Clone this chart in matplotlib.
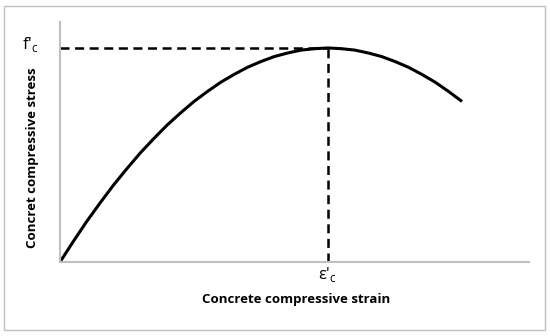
import matplotlib.pyplot as plt
from matplotlib.patches import Rectangle

plt.rcParams['lines.scale_dashes'] = False

# stress-strain curve (strain, stress in MPa)
strain = [0.0, 0.0001, 0.0002, 0.0003, 0.0004, 0.0005, 0.0006, 0.0007, 0.0008,
          0.0009, 0.0010, 0.0011, 0.0012, 0.0013, 0.0014, 0.0015, 0.0016,
          0.0017, 0.0018, 0.0019, 0.0020, 0.0021, 0.0022, 0.0023, 0.0024,
          0.0025, 0.0026, 0.0027, 0.0028, 0.0029, 0.0030]
stress = [0.0, 2.9, 5.7, 8.3, 10.8, 13.1, 15.3, 17.3, 19.2, 20.9, 22.5, 23.9,
          25.2, 26.3, 27.3, 28.1, 28.8, 29.3, 29.7, 29.9, 30.0, 29.9, 29.7,
          29.3, 28.8, 28.1, 27.3, 26.3, 25.2, 23.9, 22.5]
peak_strain = 0.002
peak_stress = 30.0

fig = plt.figure(figsize=(5.5, 3.36), dpi=100)
ax = fig.add_axes([60 / 550, 74 / 336, 469 / 550, 240 / 336])

ax.plot(strain, stress, color='black', lw=2.2, solid_capstyle='butt')
ax.plot([0, peak_strain], [peak_stress, peak_stress], color='black', lw=1.8,
        dashes=(6.5, 4))
ax.plot([peak_strain, peak_strain], [0, peak_stress], color='black', lw=1.8,
        dashes=(6.5, 4))

ax.set_xlim(0, 0.0035)
ax.set_ylim(0, 33.64)
ax.set_xticks([])
ax.set_yticks([])
for s in ['top', 'right']:
    ax.spines[s].set_visible(False)
for s in ['left', 'bottom']:
    ax.spines[s].set_color('#bfbfbf')
    ax.spines[s].set_linewidth(1.5)

font = 'Open Sans'
fig.text(22 / 550, 1 - 45 / 336, r"f'$_\mathregular{c}$", fontsize=12,
         family=font, va='center', ha='left')
fig.text(318 / 550, 1 - 274 / 336, r"ε'$_\mathregular{c}$", fontsize=12,
         family=font, ha='left', va='center')
fig.text(296 / 550, 1 - 300 / 336, 'Concrete compressive strain', fontsize=9.5,
         fontweight='bold', family=font, ha='center', va='center')
fig.text(33 / 550, 1 - 158 / 336, 'Concret compressive stress', fontsize=9.5,
         fontweight='bold', family=font, ha='center', va='center',
         rotation=90)

fig.patches.append(Rectangle((4 / 550, 6 / 336), 541 / 550, 324 / 336,
                             transform=fig.transFigure, fill=False,
                             edgecolor='#bfbfbf', lw=1))

fig.savefig('out.png', dpi=100)
